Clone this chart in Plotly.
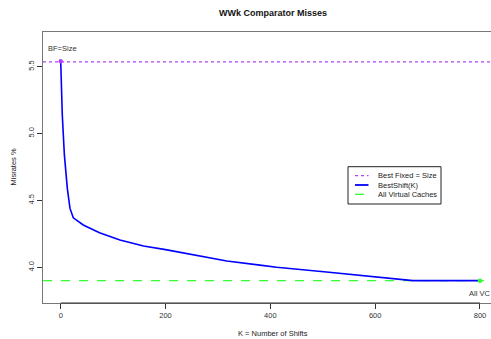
import plotly.graph_objects as go

# ---- data ----
k_shifts = [0, 1, 3, 7, 12.6, 17.7, 24, 43, 62, 74, 113, 158, 200, 221, 317, 380, 412, 507, 600, 672, 700, 750, 800]
misrate = [5.54, 5.40, 5.14, 4.84, 4.59, 4.44, 4.37, 4.316, 4.279, 4.258, 4.204, 4.159, 4.132, 4.117, 4.047, 4.016, 4.000, 3.965, 3.928, 3.90, 3.90, 3.90, 3.90]
best_fixed = 5.535
all_vc = 3.90
x_ticks = [0, 200, 400, 600, 800]
y_ticks = [4.0, 4.5, 5.0, 5.5]
legend_names = ["Best Fixed = Size", "BestShift(K)", "All Virtual Caches"]

X_RANGE = [-33.8, 821]
Y_RANGE = [3.733, 5.759]

W, H = 491, 339
ML, MR, MT, MB = 43, 0, 32, 36

C_PURPLE = "#B540FF"
C_BLUE = "#0000FF"
C_GREEN = "#33FF33"
FONT = "Liberation Sans, Arial, sans-serif"

def px(xp):
    return (xp - ML) / (W - ML - MR)

def py(yp):
    return (H - MB - yp) / (H - MT - MB)

fig = go.Figure()

fig.add_trace(go.Scatter(x=X_RANGE, y=[best_fixed, best_fixed], mode="lines",
                         line=dict(color=C_PURPLE, width=1.3, dash="dot"),
                         name=legend_names[0], showlegend=False, hoverinfo="skip"))
fig.add_trace(go.Scatter(x=X_RANGE, y=[all_vc, all_vc], mode="lines",
                         line=dict(color=C_GREEN, width=1.3, dash="dash"),
                         name=legend_names[2], showlegend=False, hoverinfo="skip"))
fig.add_trace(go.Scatter(x=k_shifts, y=misrate, mode="lines",
                         line=dict(color=C_BLUE, width=1.6),
                         name=legend_names[1], showlegend=False))
fig.add_trace(go.Scatter(x=[k_shifts[0]], y=[misrate[0]], mode="markers",
                         marker=dict(color=C_PURPLE, size=4.5), showlegend=False))
fig.add_trace(go.Scatter(x=[k_shifts[-1]], y=[all_vc], mode="markers",
                         marker=dict(color=C_GREEN, size=4.5), showlegend=False))

shapes = []
annotations = []

# bottom axis (darker) from first to last tick
shapes.append(dict(type="line", xref="x", yref="paper", x0=x_ticks[0], x1=x_ticks[-1],
                   y0=0, y1=0, line=dict(color="#333333", width=1)))

# manual legend
shapes.append(dict(type="rect", xref="paper", yref="paper",
                   x0=px(348), x1=px(441), y0=py(204), y1=py(166.7),
                   line=dict(color="#222222", width=1), fillcolor="white"))
leg_y = [175.7, 185, 194.3]
leg_style = [(C_PURPLE, "dot", 1.3), (C_BLUE, "solid", 1.8), (C_GREEN, "dash", 1.3)]
for yy, (col, dash, wd), name in zip(leg_y, leg_style, legend_names):
    shapes.append(dict(type="line", xref="paper", yref="paper",
                       x0=px(355), x1=px(368.5), y0=py(yy), y1=py(yy),
                       line=dict(color=col, width=wd, dash=dash)))
    annotations.append(dict(x=px(376), y=py(yy), xref="paper", yref="paper",
                            text=name, showarrow=False, xanchor="left", yanchor="middle",
                            font=dict(size=7.5, color="#222222", family=FONT)))

annotations.append(dict(x=3, y=5.632, xref="x", yref="y", text="BF=Size", showarrow=False,
                        xanchor="center", yanchor="middle",
                        font=dict(size=7.5, color="#333333", family=FONT)))
annotations.append(dict(x=800, y=3.806, xref="x", yref="y", text="All VC", showarrow=False,
                        xanchor="center", yanchor="middle",
                        font=dict(size=7.5, color="#333333", family=FONT)))

# title and axis titles
annotations.append(dict(x=px(273), y=py(13), xref="paper", yref="paper",
                        text="<b>WWk Comparator Misses</b>", showarrow=False,
                        xanchor="center", yanchor="middle",
                        font=dict(size=9, color="#111111", family=FONT)))
annotations.append(dict(x=px(273), y=py(333), xref="paper", yref="paper",
                        text="K = Number of Shifts", showarrow=False,
                        xanchor="center", yanchor="middle",
                        font=dict(size=7.5, color="#222222", family=FONT)))
annotations.append(dict(x=px(13), y=py(167.5), xref="paper", yref="paper",
                        text="Misrates %", showarrow=False, textangle=-90,
                        xanchor="center", yanchor="middle",
                        font=dict(size=7.5, color="#222222", family=FONT)))

fig.update_layout(
    width=W, height=H,
    margin=dict(l=ML, r=MR, t=MT, b=MB, pad=0),
    paper_bgcolor="white", plot_bgcolor="white",
    showlegend=False,
    shapes=shapes, annotations=annotations,
    font=dict(family=FONT, size=7.5, color="#222222"),
)
fig.update_xaxes(range=X_RANGE, tickvals=x_ticks, ticktext=[str(v) for v in x_ticks],
                 showgrid=False, zeroline=False, showline=True, linecolor="#777777",
                 linewidth=1, mirror=True, ticks="outside", ticklen=5, tickcolor="#333333",
                 tickwidth=1, tickfont=dict(size=7.5, family=FONT, color="#333333"))
fig.update_yaxes(range=Y_RANGE, tickvals=y_ticks, ticktext=[f"{v:.1f}" for v in y_ticks],
                 showgrid=False, zeroline=False, showline=True, linecolor="#777777",
                 linewidth=1, mirror=False, ticks="outside", ticklen=5, tickcolor="#333333",
                 tickwidth=1, tickangle=-90, tickfont=dict(size=7.5, family=FONT, color="#333333"))

fig.write_html("out.html")
